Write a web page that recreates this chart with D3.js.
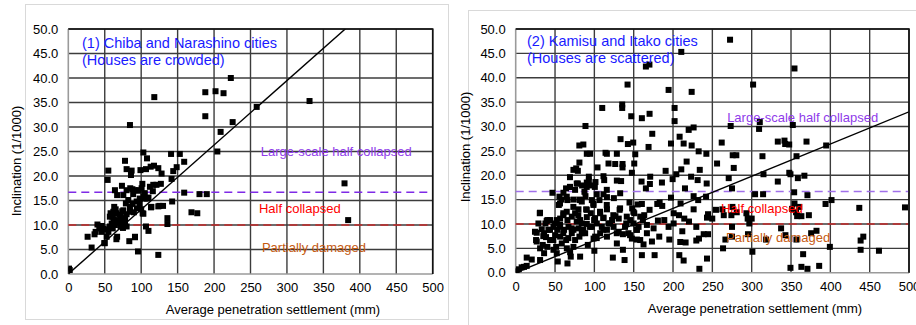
<!DOCTYPE html>
<html>
<head>
<meta charset="utf-8">
<script src="https://cdn.jsdelivr.net/npm/d3@7"></script>
<style>
    html, body { margin: 0; padding: 0; background: #fff; }
    svg { display: block; font-family: "Liberation Sans", Arial, sans-serif; }
</style>
</head>
<body>
<svg id="chart" width="916" height="325"></svg>
<script>
(function () {
    "use strict";

    // axis ticks (same for both panels)
    var xTicks = [0, 50, 100, 150, 200, 250, 300, 350, 400, 450, 500];
    var yTicks = [0, 5, 10, 15, 20, 25, 30, 35, 40, 45, 50];

    // damage thresholds (inclination 1/1000)
    var thresholdValues = [16.67, 10];
    var damageLabels = ["Large-scale half collapsed", "Half collapsed", "Partially damaged"];

    // regression slopes (inclination per mm)
    var fitSlopes = [0.1316, 0.066];

    // (1) Chiba and Narashino cities: [settlement mm, inclination 1/1000]
    var chibaPoints = [
        [2, 0.8], [1, 1.1], [26.5, 7.6], [32, 5.4], [36, 8.1], [40, 10.1], [37.5, 8.6], [42.5, 9.3],
        [45.7, 8.6], [48.5, 9.2], [49.4, 6.3], [52.6, 7.6], [55, 8.6], [57, 9.7], [59.5, 10.3],
        [60.4, 11.7], [61.8, 12.7], [63, 13.7], [66, 12.4], [67, 7.6], [68.6, 11], [71.8, 9.7],
        [72, 11.7], [75.5, 13], [77.8, 10.3], [79, 14.4], [80, 12.2], [82.3, 15.1], [84.6, 13.7],
        [88, 14.3], [89, 16.3], [91.5, 7.6], [83.7, 6.7], [93.8, 14.8], [96.5, 17.1], [98, 15.4],
        [102, 12.4], [103, 15.8], [105, 16.5], [106.6, 9.7], [108, 15.4], [110, 8.8], [112, 17.8],
        [114, 13.7], [116.6, 18.2], [121, 18.2], [125, 13.9], [127, 18.4], [130, 13.9], [136, 11.4],
        [136, 10.2], [142.5, 14.8], [123.5, 3.9], [95.6, 4.6], [54, 19.2], [54.9, 21.1], [77.8, 23.1],
        [80, 21.4], [86, 20.2], [86.9, 21.1], [99, 21.2], [103, 24.8], [108, 23.6], [106.6, 21.4],
        [113, 21.9], [117.6, 22.1], [123.5, 21.6], [128, 20.5], [84.6, 30.4], [118, 36.1],
        [141, 24.5], [153, 24.5], [159, 22.9], [148.7, 21.8], [144, 21], [141.7, 19.4], [159, 16.6],
        [180, 16.3], [190, 16.3], [169, 12.6], [177, 12.4], [188, 37.1], [188, 32.2], [202, 37.3],
        [213, 36.9], [209, 29], [225.5, 31], [204.5, 25], [223, 40], [258.5, 34.1], [331, 35.3],
        [379, 18.5], [384, 11], [64, 17.1], [73.6, 18], [67, 16.1], [75.5, 16.1], [80, 17.1],
        [85, 17.5], [91, 17.1], [100.6, 17.5], [105, 15.4], [98, 14.3], [57, 11.7], [64, 10],
        [71, 10.7], [80, 9.7], [84.6, 12.7], [66, 7.1], [50, 6.3], [91.5, 7.5], [103, 12.3],
        [113.5, 13.6], [123.5, 13.8], [101.6, 18.4], [96.5, 17], [88, 17.3], [62, 11.2], [58, 12.4],
        [65, 13.2], [70, 12.1], [74, 12.8], [78, 11.4], [90, 12.6], [94, 13.4], [100, 13.2],
        [110, 15.6], [116, 16.9], [46, 9.8], [52, 9.1], [61, 9.3], [69, 10.6], [75, 9.4]
    ];

    // (2) Kamisu and Itako cities: [settlement mm, inclination 1/1000]
    var kamisuPoints = [
        [272.5, 47.8], [210.5, 45.3], [165.5, 42.3], [170, 42.7], [354.4, 41.9], [142.2, 38.6],
        [301.8, 38.6], [194.4, 37.5], [223.7, 37.1], [135.4, 34.5], [135.4, 33.8], [110, 33.8],
        [202, 33.8], [202, 31.1], [146.9, 32.1], [160.4, 31.7], [170.2, 32.6], [88.7, 30.1],
        [273.3, 30.1], [310.3, 30.9], [309.4, 29.5], [352.3, 30.3], [219.9, 29.3], [226.2, 29.8],
        [173.6, 28.5], [208.4, 27.9], [133.3, 27.4], [213.5, 26.5], [197.4, 26.5], [223.7, 26.1],
        [142.6, 26.4], [149.4, 26.7], [168.9, 25.8], [80.9, 26.1], [86, 26.3], [261.9, 26.7],
        [333.2, 26.9], [341.7, 27.1], [342.6, 26.4], [347.7, 26.3], [369.7, 26.9], [394.7, 26.1],
        [90.4, 24.4], [94.6, 24.4], [114.2, 24.6], [115.9, 24.4], [128.6, 24.4], [152, 24.3],
        [232.6, 24.9], [242.4, 24.4], [275.9, 24.1], [280.5, 24.1], [313.7, 23.9], [357, 23.9],
        [256, 22.4], [217.3, 22.8], [118, 22.4], [126.5, 22.3], [135.8, 22.3], [135.8, 21.6],
        [150.7, 22.4], [81, 22.6], [73.4, 21.1], [76.9, 21.4], [79, 20.9], [104, 21.6], [147.7, 20.5],
        [210.5, 21.2], [204.2, 20.2], [190.6, 20.9], [234, 21.1], [277.2, 21.5], [315, 20.2],
        [347.8, 20.5], [349.3, 20.2], [367, 19.9], [270.8, 19.4], [358.7, 19.4], [223, 19.7],
        [231.3, 19], [242.8, 18.3], [333.2, 18.7], [275, 17.3],
        [93, 19.7], [93, 18.9], [111.6, 19.8], [112.5, 19], [101.4, 18.6], [128.6, 18.9], [134, 18.8],
        [160, 18.7], [171, 19.7], [170.6, 18.2], [185.9, 18.5], [199.5, 19.2], [215.2, 17.3],
        [165.5, 17.3], [69, 19.6], [79, 18.3], [84.4, 17.9], [90.4, 18.5], [95.5, 17.9], [100.6, 17.6],
        [64, 17.3], [69, 17.6], [75.5, 17], [87.4, 16.6], [103, 16.1], [111.6, 16.1], [132.8, 16.3],
        [116, 15.5], [124.8, 15.3], [46.7, 16.4], [55.6, 15.6], [60.7, 16.4], [58.1, 15], [54.8, 13.9],
        [65.8, 14.9], [73.4, 15], [81, 15], [84, 14.6], [88.7, 15.7], [96.8, 14.9], [106.5, 14.9],
        [144.7, 14.4], [155, 14], [160.4, 14.1], [180, 14.1], [183, 14.4], [186.3, 13.7], [197.4, 15.4],
        [209.6, 14.2], [226.2, 15.7], [232, 14.9], [242, 15.6], [304.3, 16.1], [314.5, 16.1],
        [354, 16.5], [370.9, 15.9], [401.5, 14.9], [393.9, 14.1], [436.8, 13.3], [494.9, 13.4],
        [354.4, 14.2], [351.4, 13.1], [356.4, 12.4], [360.6, 13.5], [363.2, 11.6], [357.8, 11.6],
        [372.7, 11.8], [275.5, 13.5], [262.8, 13], [264.5, 11.8], [274.2, 11.8], [281, 12.4],
        [293.3, 12.2], [300, 11.1], [294.9, 11.1], [254.6, 12.9], [244.5, 12], [243.2, 11.3],
        [249.9, 11.1], [226.2, 13], [214.3, 11.1], [220.3, 10.5], [200.8, 12.2], [207.6, 11.8],
        [188.9, 10.8], [200.8, 10.1], [180.8, 10.7], [170.2, 12.9], [163.4, 11.8], [158.3, 11.5],
        [161.7, 10.8], [148.1, 13.2], [150.7, 12.2], [145.6, 10.8], [132.1, 12.9], [126.8, 11.6],
        [131, 11.1], [122.5, 10.8], [116, 13], [107.4, 12.2], [111.6, 11.3], [98.9, 13.9], [95.5, 12.2],
        [89.6, 13], [90.4, 11.4], [99.7, 10.8], [79.8, 13], [75.5, 12.2], [71.3, 11.5], [64.9, 12.5],
        [60.7, 11.8], [56.5, 11.1], [52.2, 10.8], [65.8, 10.8], [81.9, 10.8], [30.6, 12.2], [40.3, 10.8],
        [28.9, 10.1], [26.7, 8.2], [25.9, 6.7], [33.1, 8.9], [36.1, 8.1], [38.6, 7.3], [41.6, 8.8],
        [43.7, 6.7], [34.4, 5.7], [31, 5], [40.3, 5.3], [36.1, 4], [48, 9.4], [53.1, 8.8], [50.1, 7.7],
        [56.5, 7.4], [51.4, 5.3], [48, 4.7], [52.2, 4], [53.5, 2.3], [65.8, 1.9], [58.6, 6], [64.1, 6.7],
        [71.3, 8.1], [65, 5], [69.2, 4.2], [73.4, 5.3], [70, 3.3], [75.5, 6.7], [81, 7.4], [81.9, 3.3],
        [86, 8.8], [88.3, 8.1], [91.7, 5.7], [99, 7], [101, 7.4], [100, 4.5], [107.4, 8.1], [116, 8.8],
        [116, 7.4], [124.4, 9.4], [123.5, 3.1], [128.6, 6], [130.8, 8.4], [136.3, 7.9], [136.3, 4.7],
        [138.4, 2.6], [143.4, 8.1], [147.7, 7], [154.1, 6.8], [154.1, 8.8], [158.3, 6.7], [162.5, 5.8],
        [160.4, 3.6], [166.8, 8.1], [173.2, 6.4], [176.6, 3.6], [182.5, 7.4], [194.4, 9.4], [195.3, 6.8],
        [211.8, 8.5], [209.2, 6.3], [216, 6.2], [208, 3.6], [213.5, 2.5], [233, 7], [229.6, 6.6],
        [239, 7.9], [244.5, 7.9], [243.2, 2.9], [233.5, 0.8], [229.6, 9.4], [263.6, 5], [266.6, 6.8],
        [275, 7.4], [275, 9.4], [295.3, 7.9], [297, 10.1], [300.9, 4.3], [318.3, 6.8], [337.4, 9.1],
        [342.9, 7.7], [356.9, 6.8], [365.4, 3.8], [375.6, 8.1], [382.4, 8.6], [399.4, 5.3], [438.5, 6.6],
        [441.9, 7.4], [438.5, 4.7], [461.8, 4.5], [349.3, 1], [363.2, 1.2], [370.9, 0.8], [385.8, 1.4],
        [2, 0.4], [4, 0.7], [7.6, 1.1], [10.6, 1.2], [14, 1.4], [14, 3.1], [20.4, 2.7], [31, 2.6],
        [0.4, 0.2], [37.8, 10.1], [43.7, 10.8], [49.7, 10.1], [56.5, 9.4], [61.5, 8.8], [67.1, 9.4],
        [73.4, 8.8], [79.8, 9.1], [84, 10.1], [90.4, 10], [96.8, 9.4], [103.1, 10.1], [109.5, 9.4],
        [118, 10.1], [140.5, 10.1], [149.8, 10.1], [156.2, 9.4], [175.3, 9.1], [166.8, 9.8],
        [30.9, 12.3], [39.4, 10.6], [24.5, 8.4], [26.7, 6.4], [35.1, 7.5], [43.6, 8.8], [47.8, 6.7],
        [56.3, 9.8], [60.5, 8.1], [66.9, 7.1], [71.2, 9.1], [77.6, 10.5], [84, 8.1], [94.5, 9.4],
        [103, 7.1], [111.4, 8.8], [120, 10.1], [128.5, 8.1], [139, 9.4], [145.4, 7.7], [153.9, 8.8],
        [56.3, 14.2], [64.9, 15.6], [73.3, 13.5], [81.8, 14.9], [90.3, 12.9], [98.7, 14.2],
        [107.2, 12.5], [115.8, 13.9], [124.1, 11.8], [132.7, 13.2], [141.2, 11.5], [149.6, 12.5],
        [60.5, 12.2], [79.6, 11.8], [100.9, 11.2], [111.4, 11.2], [69, 17.6], [90.3, 17.6],
        [115.8, 17], [77.6, 18.3]
    ];

    var panels = [
        {
            frame: [25, 4, 423, 315],
            left: 68.3, right: 432.7, top: 29, bottom: 274,
            points: chibaPoints, slope: fitSlopes[0],
            title: ["(1) Chiba and Narashino cities", "(Houses are crowded)"],
            titleX: 82, titleY: 48,
            yTitleX: 16, yTitleY: 161,
            xTitleX: 273, xTitleY: 314,
            labelPos: [[264, 24.1], [261.6, 12.4], [265.7, 4.5]],
            purple: "#7f2ae6", dashRed: "#c42a2a"
        },
        {
            frame: [468, 10, 460, 330],
            left: 515.7, right: 909, top: 29, bottom: 272.7,
            points: kamisuPoints, slope: fitSlopes[1],
            title: ["(2) Kamisu and Itako cities", "(Houses are scattered)"],
            titleX: 527, titleY: 46,
            yTitleX: 465, yTitleY: 147,
            xTitleX: 755, xTitleY: 313,
            labelPos: [[268.8, 30.9], [261, 12.2], [267.5, 6.3]],
            purple: "#a170ea", dashRed: "#c42a2a"
        }
    ];

    var labelColors = ["#8f3bea", "#ff0000", "#c55a11"];
    var svg = d3.select("#chart");

    panels.forEach(function (p) {
        var g = svg.append("g");

        g.append("rect")
            .attr("x", p.frame[0] + 0.5)
            .attr("y", p.frame[1] + 0.5)
            .attr("width", p.frame[2])
            .attr("height", p.frame[3])
            .attr("fill", "#fff")
            .attr("stroke", "#d9d9d9");

        var x = d3.scaleLinear().domain([0, 500]).range([p.left, p.right]);
        var y = d3.scaleLinear().domain([0, 50]).range([p.bottom, p.top]);

        // grid
        g.append("g").selectAll("line")
            .data(xTicks.slice(1))
            .enter()
            .append("line")
            .attr("x1", function (d) { return x(d); })
            .attr("x2", function (d) { return x(d); })
            .attr("y1", p.top)
            .attr("y2", p.bottom)
            .attr("stroke", "#3c3c3c")
            .attr("stroke-width", 1.4);
        g.append("g").selectAll("line")
            .data(yTicks.slice(1))
            .enter()
            .append("line")
            .attr("x1", p.left)
            .attr("x2", p.right)
            .attr("y1", function (d) { return y(d); })
            .attr("y2", function (d) { return y(d); })
            .attr("stroke", "#3c3c3c")
            .attr("stroke-width", 1.4);

        // left and bottom axis lines
        g.append("line")
            .attr("x1", p.left).attr("x2", p.left)
            .attr("y1", p.top).attr("y2", p.bottom)
            .attr("stroke", "#9a9a9a").attr("stroke-width", 1.6);
        g.append("line")
            .attr("x1", p.left).attr("x2", p.right)
            .attr("y1", p.bottom).attr("y2", p.bottom)
            .attr("stroke", "#9a9a9a").attr("stroke-width", 1.6);

        // tick labels
        var xAxis = d3.axisBottom(x).tickValues(xTicks).tickSize(0).tickPadding(9)
            .tickFormat(d3.format("d"));
        var xa = g.append("g")
            .attr("transform", "translate(0," + p.bottom + ")")
            .call(xAxis);
        xa.select(".domain").remove();
        xa.selectAll("text").attr("font-size", 13).attr("fill", "#000")
            .attr("font-family", "Liberation Sans, Arial, sans-serif");

        var yAxis = d3.axisLeft(y).tickValues(yTicks).tickSize(0).tickPadding(10)
            .tickFormat(d3.format(".1f"));
        var ya = g.append("g")
            .attr("transform", "translate(" + p.left + ",0)")
            .call(yAxis);
        ya.select(".domain").remove();
        ya.selectAll("text").attr("font-size", 13).attr("fill", "#000")
            .attr("font-family", "Liberation Sans, Arial, sans-serif");

        // threshold lines
        g.append("line")
            .attr("x1", p.left).attr("x2", p.right)
            .attr("y1", y(thresholdValues[0])).attr("y2", y(thresholdValues[0]))
            .attr("stroke", p.purple).attr("stroke-width", 1.6)
            .attr("stroke-dasharray", "8,5");
        g.append("line")
            .attr("x1", p.left).attr("x2", p.right)
            .attr("y1", y(thresholdValues[1])).attr("y2", y(thresholdValues[1]))
            .attr("stroke", p.dashRed).attr("stroke-width", 1.6)
            .attr("stroke-dasharray", "8,5");

        // clip for plot content
        var clipId = "clip" + Math.round(p.left);
        svg.append("clipPath").attr("id", clipId)
            .append("rect")
            .attr("x", p.left).attr("y", p.top)
            .attr("width", p.right - p.left).attr("height", p.bottom - p.top);

        var inner = g.append("g").attr("clip-path", "url(#" + clipId + ")");

        // points
        inner.selectAll(".pt")
            .data(p.points)
            .enter()
            .append("rect")
            .attr("class", "pt")
            .attr("x", function (d) { return x(d[0]) - 3; })
            .attr("y", function (d) { return y(d[1]) - 3; })
            .attr("width", 6)
            .attr("height", 6)
            .attr("fill", "#000");

        // regression line through origin
        inner.append("line")
            .attr("x1", x(0)).attr("y1", y(0))
            .attr("x2", x(500)).attr("y2", y(500 * p.slope))
            .attr("stroke", "#000").attr("stroke-width", 1.4);

        // outer plot border (top / right)
        g.append("path")
            .attr("d", "M" + p.left + "," + p.top + "H" + p.right + "V" + p.bottom)
            .attr("fill", "none").attr("stroke", "#111").attr("stroke-width", 1.6);

        // damage labels
        g.selectAll(".dmg")
            .data(damageLabels)
            .enter()
            .append("text")
            .attr("class", "dmg")
            .attr("x", function (d, i) { return x(p.labelPos[i][0]); })
            .attr("y", function (d, i) { return y(p.labelPos[i][1]); })
            .attr("font-size", 13)
            .attr("fill", function (d, i) { return labelColors[i]; })
            .text(function (d) { return d; });

        // panel title
        g.selectAll(".ttl")
            .data(p.title)
            .enter()
            .append("text")
            .attr("class", "ttl")
            .attr("x", p.titleX)
            .attr("y", function (d, i) { return p.titleY + i * 17; })
            .attr("font-size", 14.5)
            .attr("fill", "#1a1aff")
            .text(function (d) { return d; });

        // axis titles
        g.append("text")
            .attr("x", p.xTitleX).attr("y", p.xTitleY)
            .attr("text-anchor", "middle")
            .attr("font-size", 13)
            .attr("fill", "#000")
            .text("Average penetration settlement (mm)");
        g.append("text")
            .attr("transform", "translate(" + p.yTitleX + "," + p.yTitleY + ") rotate(-90)")
            .attr("text-anchor", "middle")
            .attr("dy", "0.35em")
            .attr("font-size", 13)
            .attr("fill", "#000")
            .text("Inclination (1/1000)");
    });
})();
</script>
</body>
</html>
